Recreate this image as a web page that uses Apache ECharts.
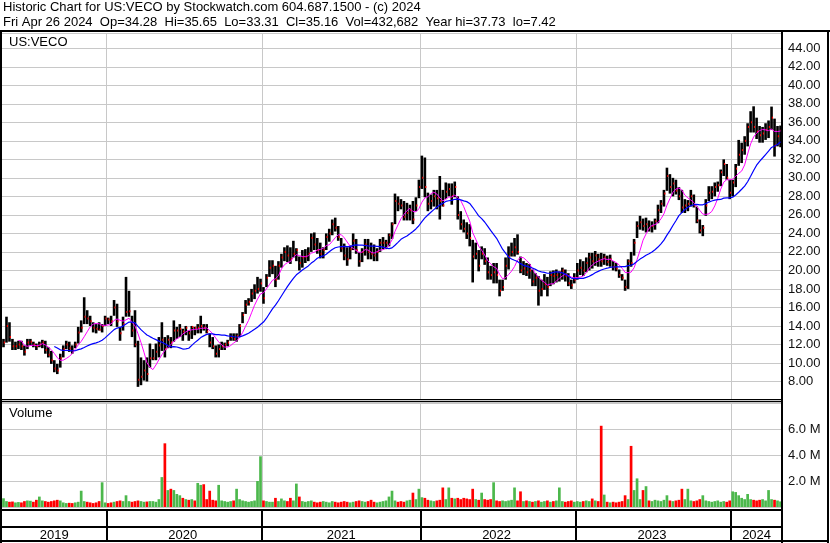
<!DOCTYPE html>
<html><head><meta charset="utf-8">
<script src="https://cdn.jsdelivr.net/npm/echarts/dist/echarts.min.js"></script>
<style>html,body{margin:0;padding:0;background:#fff}#c{width:830px;height:543px}</style>
</head><body><div id="c"></div>
<script>
// Weekly bars (week ending Fridays, 2019-05-03 .. 2024-04-26)
const highs = [
12.6,15.0,14.4,12.6,12.3,12.4,12.4,11.9,12.6,12.6,
12.3,12.1,12.3,12.5,12.4,11.7,11.3,10.3,9.9,11.0,
11.9,12.4,12.3,11.9,12.3,13.9,14.6,17.1,15.7,15.1,
14.4,14.2,14.4,14.2,15.1,14.9,15.1,16.8,16.4,13.9,
15.0,19.3,17.8,15.1,15.7,12.4,10.6,10.3,10.6,12.1,
11.5,12.1,12.8,14.4,12.8,13.0,12.8,14.6,13.9,14.2,
13.7,14.0,13.5,14.0,13.9,14.2,15.1,14.2,14.2,13.2,
12.8,11.9,12.0,12.3,12.2,12.5,13.2,13.2,13.2,14.2,
15.5,16.8,17.0,18.0,18.5,19.3,19.1,18.2,19.6,21.1,
21.1,20.5,21.0,21.8,22.5,22.7,22.5,23.2,22.4,21.5,
22.2,22.3,22.5,24.0,24.1,23.5,23.0,22.5,24.0,24.5,
25.5,25.7,24.8,23.5,22.9,22.5,22.7,24.0,23.4,22.0,
22.4,23.4,23.4,23.0,22.8,22.4,23.4,23.6,23.3,24.0,
25.2,28.3,28.0,27.7,27.5,27.3,27.1,27.5,27.9,29.8,
32.4,32.2,28.4,28.2,28.7,28.7,30.2,28.7,29.5,29.4,
29.4,29.6,28.0,26.4,25.5,25.2,25.0,23.3,23.0,22.2,
22.6,22.4,21.4,20.5,20.8,20.8,19.0,19.0,21.4,22.6,
23.0,23.5,23.9,21.5,21.0,20.8,20.7,20.1,19.7,19.4,
19.0,19.6,19.3,19.9,20.0,20.1,19.9,20.3,20.1,19.7,
19.0,19.7,20.8,21.2,21.0,21.4,21.9,21.9,22.1,21.8,
21.9,21.8,21.6,21.7,21.0,20.8,20.1,19.6,19.0,21.2,
22.0,23.4,25.3,25.9,25.6,25.7,25.4,25.3,25.6,27.1,
27.6,28.7,31.1,30.4,30.0,29.8,29.0,28.7,27.7,27.6,
28.7,28.2,26.9,25.5,24.9,27.7,29.1,29.1,29.5,29.6,
30.9,32.0,31.5,29.8,29.8,31.5,34.1,33.8,34.5,35.9,
37.2,37.73,36.5,35.6,35.5,35.9,36.2,37.7,36.4,35.6,
35.65];
const lows = [
11.7,12.2,12.3,11.4,11.4,11.5,11.4,10.8,11.5,11.9,
11.7,11.4,11.7,11.6,11.0,10.6,9.9,9.0,8.8,9.5,
10.6,11.5,11.2,11.0,11.6,12.1,13.3,14.2,14.2,14.0,
13.3,13.2,13.5,13.3,14.0,14.2,14.0,15.1,13.9,12.4,
13.5,15.0,15.0,12.8,11.7,7.42,7.6,8.1,8.0,9.5,
10.3,10.3,10.6,11.3,10.6,11.6,11.6,12.3,12.6,12.8,
12.4,13.0,12.4,12.6,13.0,13.2,13.2,13.5,13.2,11.7,
11.5,10.6,10.6,11.4,11.4,11.8,12.4,12.4,12.3,12.8,
14.3,15.3,16.2,16.6,16.9,17.5,17.7,16.4,18.2,19.3,
19.6,18.2,19.0,20.3,21.0,20.9,20.7,21.4,21.0,20.0,
20.3,20.8,21.0,22.0,22.2,21.8,21.3,21.3,22.2,23.1,
23.8,24.2,23.2,22.0,21.1,20.5,21.2,22.2,21.8,20.4,
20.9,21.6,21.2,21.2,21.0,21.0,22.0,22.3,22.3,22.6,
23.4,25.0,26.4,26.6,25.4,25.4,25.4,25.0,26.4,27.8,
28.8,27.9,26.4,26.6,26.9,26.6,25.5,26.9,27.7,28.0,
27.1,27.9,25.5,24.4,24.1,23.4,22.6,18.7,21.2,19.9,
21.2,20.6,19.0,19.0,18.6,18.6,17.2,17.8,19.0,20.1,
21.5,21.5,21.7,19.7,19.5,19.4,19.1,18.3,18.3,16.2,
17.2,17.9,17.2,18.3,18.5,18.7,18.8,19.0,18.8,18.3,
18.0,18.6,19.0,19.5,19.4,19.8,20.0,20.2,20.5,20.4,
20.4,20.6,20.5,20.4,20.0,19.9,19.2,18.9,17.8,18.0,
20.4,21.6,23.5,24.4,24.3,24.1,24.2,24.1,24.4,25.1,
26.2,26.9,28.6,28.3,28.0,28.2,27.6,26.2,26.2,26.4,
26.9,26.8,25.1,24.0,23.7,25.9,27.5,27.7,28.0,28.5,
29.1,30.2,29.8,27.7,28.0,29.0,31.3,31.6,32.5,33.4,
34.9,34.9,34.2,33.8,33.8,34.1,34.3,35.2,32.3,33.4,
33.31];
const closes = [
12.2,14.0,12.8,11.8,11.8,12.0,11.8,11.2,12.2,12.3,
12.0,11.8,12.0,12.2,11.4,10.9,10.3,9.4,9.2,10.5,
11.5,12.0,11.6,11.3,12.0,13.3,13.8,15.0,14.8,14.5,
13.8,13.7,13.6,14.0,14.8,14.7,14.5,16.0,14.5,13.2,
14.2,15.5,15.6,13.5,12.0,8.2,8.5,9.2,8.8,10.5,
10.5,11.2,11.9,12.5,11.5,12.5,12.2,13.5,13.5,13.7,
13.4,13.8,13.2,13.9,13.8,13.8,14.0,13.8,13.4,12.2,
11.8,11.0,11.5,11.8,12.0,12.2,12.8,12.6,12.9,14.0,
15.2,16.3,16.6,17.5,17.8,18.0,18.6,17.0,19.2,20.3,
20.5,19.0,20.5,21.4,22.0,21.6,21.2,21.8,22.2,20.8,
21.4,21.5,21.8,23.5,22.8,22.2,21.8,22.2,23.6,24.0,
25.0,24.6,23.6,22.4,21.6,21.2,22.3,23.2,22.2,21.0,
22.0,22.8,22.0,21.8,21.6,22.0,23.0,23.0,23.0,23.8,
25.0,27.5,27.2,27.0,25.8,26.2,26.5,25.5,27.0,29.0,
30.0,29.0,27.2,27.5,28.0,27.8,27.5,27.0,28.5,28.8,
28.0,29.0,26.0,25.0,24.5,24.0,23.5,21.5,21.8,20.5,
21.8,21.0,19.8,19.5,19.8,19.5,17.8,18.2,20.5,21.5,
22.0,22.5,22.0,20.0,20.2,19.8,20.0,18.8,19.2,17.8,
18.0,18.5,18.2,19.5,19.4,19.5,19.8,20.0,19.4,18.6,
18.4,19.0,20.0,20.3,20.0,20.8,21.4,21.0,21.6,21.2,
21.0,21.4,20.9,21.2,20.4,20.2,19.5,19.2,18.2,21.0,
20.8,23.0,24.8,25.2,24.8,25.0,24.6,24.8,25.3,26.5,
27.2,28.3,30.2,29.0,29.4,28.6,28.0,26.8,27.0,27.2,
28.0,27.0,25.4,24.3,24.6,27.0,28.4,28.5,29.0,29.2,
30.6,31.5,30.0,28.4,29.5,31.0,32.5,33.0,34.0,35.5,
36.0,35.5,35.0,34.6,34.8,35.2,35.5,36.5,33.5,34.5,
35.16];
// Peak daily volume seen in each week, millions
const volumes = [
0.67,0.45,0.40,0.42,0.35,0.38,0.35,0.45,0.50,0.48,
0.40,0.55,0.80,0.50,0.45,0.40,0.45,0.50,0.55,0.50,
0.35,0.30,0.32,0.30,0.35,0.40,1.25,0.45,0.40,0.35,
0.30,0.35,0.45,1.90,0.35,0.30,0.35,0.40,0.45,0.50,
0.45,0.90,0.45,0.40,0.45,0.50,0.45,0.40,0.42,0.45,
0.45,0.40,0.60,2.30,4.90,1.30,1.40,1.30,1.00,0.90,
0.70,0.60,0.55,0.60,0.50,1.85,1.70,1.75,0.60,1.25,
0.55,0.50,1.70,0.50,0.45,0.40,0.45,0.50,1.40,0.60,
0.50,0.45,0.40,0.45,0.50,2.00,3.90,0.50,0.45,0.40,
0.40,0.70,0.45,0.65,0.50,0.45,0.70,0.50,1.80,0.80,
0.45,0.40,0.45,0.50,0.40,0.35,0.40,0.45,0.40,0.35,
0.45,0.40,0.35,0.40,0.45,0.40,0.35,0.40,0.45,0.50,
0.45,0.40,0.45,0.55,0.40,0.35,0.40,0.45,0.50,0.80,
1.25,0.50,0.40,0.45,0.40,0.50,0.55,1.10,0.60,1.40,
0.75,0.70,0.55,0.50,0.45,0.50,0.55,1.50,0.60,1.50,
0.70,0.65,0.70,0.60,0.70,0.65,0.60,1.40,0.60,0.55,
1.10,0.60,0.55,0.60,1.90,0.50,0.45,0.50,0.45,0.50,
0.55,1.50,0.50,1.20,0.45,0.50,0.45,0.40,0.45,0.50,
0.40,0.45,0.50,0.40,0.45,0.50,1.50,0.45,0.40,0.45,
0.50,0.40,0.45,0.40,0.45,0.50,0.45,0.65,0.50,0.45,
6.25,0.95,0.40,0.35,0.40,0.35,0.40,0.45,0.90,0.60,
4.70,1.30,2.20,0.60,1.30,1.60,0.50,0.45,0.55,0.50,
0.45,0.55,0.90,0.50,0.45,0.50,0.55,1.40,0.60,1.40,
0.50,0.45,0.50,0.60,0.90,0.50,0.45,0.40,0.45,0.50,
0.40,0.45,0.40,0.50,1.20,1.15,0.90,0.70,0.60,1.00,
0.60,0.55,0.50,0.55,0.60,0.50,1.30,0.60,0.55,0.50,
0.43];
const priceTickStep = 2;
const volTickStep = 2;
const titleLine1 = 'Historic Chart for US:VECO by Stockwatch.com 604.687.1500 - (c) 2024';
const titleLine2 = 'Fri Apr 26 2024  Op=34.28  Hi=35.65  Lo=33.31  Cl=35.16  Vol=432,682  Year hi=37.73  lo=7.42';

// week categories
const weeks = [];
{ let t = Date.UTC(2019, 4, 3); for (let i = 0; i < closes.length; i++) { weeks.push(new Date(t).toISOString().slice(0, 10)); t += 7 * 86400000; } }
const yearOf = i => weeks[i].slice(0, 4);
const isYearStart = i => i > 0 && yearOf(i) !== yearOf(i - 1);
const yearMid = {};
(() => { const r = {}; weeks.forEach((w, i) => { const y = w.slice(0, 4); if (!r[y]) r[y] = [i, i]; r[y][1] = i; });
  for (const y in r) yearMid[Math.floor((r[y][0] + r[y][1]) / 2)] = y; })();

function sma(arr, n) { return arr.map((v, i) => { if (i < n - 1) return '-'; let s = 0; for (let k = i - n + 1; k <= i; k++) s += arr[k]; return +(s / n).toFixed(3); }); }
const maShort = sma(closes, 6);
const maLong = sma(closes, 18);
const barData = closes.map((c, i) => [i, highs[i], lows[i], c]);
const volData = volumes.map((v, i) => ({ value: v, itemStyle: { color: (i === 0 || closes[i] >= closes[i - 1]) ? '#4cb84c' : '#ff0000' } }));

const FONT = 'Liberation Sans, Arial, sans-serif';
const GRID = '#c8c8c8';
const chart = echarts.init(document.getElementById('c'), null, { renderer: 'canvas' });
const catAxis = (gi, extra) => Object.assign({
  type: 'category', gridIndex: gi, data: weeks, boundaryGap: true,
  axisLine: { show: false }, axisTick: { show: false }, axisLabel: { show: false },
  splitLine: { show: true, interval: (i) => isYearStart(i), lineStyle: { color: GRID, width: 1 } }
}, extra || {});

chart.setOption({
  animation: false,
  backgroundColor: '#fff',
  textStyle: { fontFamily: FONT },
  grid: [
    { left: 2, top: 33, width: 780, height: 367 },
    { left: 2, top: 402, width: 780, height: 105 },
    { left: 2, top: 511, width: 780, height: 30 },
    { left: 2, top: 527, width: 780, height: 14 }
  ],
  xAxis: [
    catAxis(0),
    catAxis(1),
    catAxis(2, { splitLine: { show: true, interval: (i) => isYearStart(i), lineStyle: { color: '#000', width: 2 } } }),
    catAxis(3, { position: 'top', splitLine: { show: false },
      axisLabel: { show: true, inside: true, margin: 2, interval: (i) => yearMid[i] !== undefined,
        formatter: (v) => v.slice(0, 4), fontSize: 13, color: '#000', fontFamily: FONT } })
  ],
  yAxis: [
    { type: 'value', gridIndex: 0, position: 'right', min: 6, max: 45.65, interval: priceTickStep,
      axisLine: { show: false }, axisTick: { show: false },
      splitLine: { lineStyle: { color: GRID, width: 1 } },
      axisLabel: { margin: 6, fontSize: 13, color: '#111', fontFamily: FONT,
        formatter: (v) => (v >= 8 && v <= 44 && Math.abs(v % 2) < 1e-6) ? v.toFixed(2) : '' } },
    { type: 'value', gridIndex: 1, position: 'right', min: 0, max: 8.08, interval: volTickStep,
      axisLine: { show: false }, axisTick: { show: false },
      splitLine: { lineStyle: { color: GRID, width: 1 } },
      axisLabel: { margin: 6, fontSize: 13, color: '#111', fontFamily: FONT,
        formatter: (v) => (v > 0 && v < 8 && Math.abs(v % 2) < 1e-6) ? v.toFixed(1) + ' M' : '' } },
    { type: 'value', gridIndex: 2, show: false },
    { type: 'value', gridIndex: 3, show: false }
  ],
  series: [
    { type: 'custom', xAxisIndex: 0, yAxisIndex: 0, data: barData, z: 3,
      renderItem: (params, api) => {
        const i = api.value(0);
        const t = api.coord([i, api.value(1)]);
        const b = api.coord([i, api.value(2)]);
        const c = api.coord([i, api.value(3)]);
        return { type: 'group', children: [
          { type: 'rect', shape: { x: t[0] - 1.3, y: t[1], width: 2.6, height: Math.max(1, b[1] - t[1]) }, style: { fill: '#000' } },
          { type: 'rect', shape: { x: t[0] + 0.3, y: c[1] - 1, width: 1.2, height: 2 }, style: { fill: '#ff0000' } }
        ] };
      } },
    { type: 'line', xAxisIndex: 0, yAxisIndex: 0, data: maShort, showSymbol: false, z: 4,
      lineStyle: { color: '#ff00ff', width: 1 } },
    { type: 'line', xAxisIndex: 0, yAxisIndex: 0, data: maLong, showSymbol: false, z: 4,
      lineStyle: { color: '#0000ff', width: 1.2 } },
    { type: 'bar', xAxisIndex: 1, yAxisIndex: 1, data: volData, barCategoryGap: '10%' }
  ],
  graphic: [
    { type: 'text', left: 3, top: 1, style: { text: titleLine1, fontSize: 13, fill: '#000', fontFamily: FONT } },
    { type: 'text', left: 3, top: 16, style: { text: titleLine2, fontSize: 13, fill: '#000', fontFamily: FONT } },
    { type: 'text', left: 9, top: 36, style: { text: 'US:VECO', fontSize: 13, fill: '#000', fontFamily: FONT } },
    { type: 'text', left: 9, top: 407, style: { text: 'Volume', fontSize: 13, fill: '#000', fontFamily: FONT } },
    { type: 'rect', shape: { x: 0, y: 30, width: 830, height: 2 }, style: { fill: '#000' }, z: 10 },
    { type: 'rect', shape: { x: 0, y: 30, width: 2, height: 513 }, style: { fill: '#000' }, z: 10 },
    { type: 'rect', shape: { x: 781, y: 30, width: 2, height: 513 }, style: { fill: '#000' }, z: 10 },
    { type: 'rect', shape: { x: 827, y: 30, width: 2, height: 513 }, style: { fill: '#000' }, z: 10 },
    { type: 'rect', shape: { x: 0, y: 399, width: 782, height: 1 }, style: { fill: '#000' }, z: 10 },
    { type: 'rect', shape: { x: 0, y: 401, width: 782, height: 1 }, style: { fill: '#000' }, z: 10 },
    { type: 'rect', shape: { x: 0, y: 509, width: 782, height: 2 }, style: { fill: '#000' }, z: 10 },
    { type: 'rect', shape: { x: 0, y: 526, width: 782, height: 2 }, style: { fill: '#000' }, z: 10 },
    { type: 'rect', shape: { x: 0, y: 540, width: 829, height: 2 }, style: { fill: '#000' }, z: 10 }
  ]
});
</script></body></html>
